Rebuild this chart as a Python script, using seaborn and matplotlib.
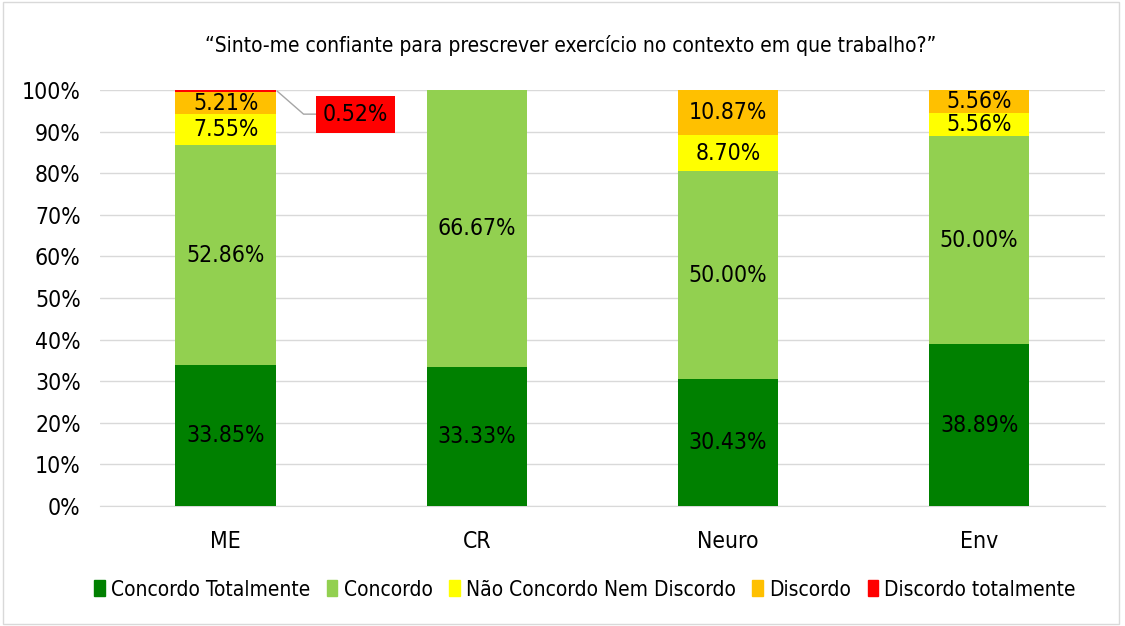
import pandas as pd
import matplotlib.pyplot as plt
import seaborn as sns
from matplotlib.patches import Rectangle, Patch

categories = ["ME", "CR", "Neuro", "Env"]
levels = ["Concordo Totalmente", "Concordo", "Não Concordo Nem Discordo",
          "Discordo", "Discordo totalmente"]
concordo_totalmente = [33.85, 33.33, 30.43, 38.89]
concordo = [52.86, 66.67, 50.00, 50.00]
neutro = [7.55, 0.0, 8.70, 5.56]
discordo = [5.21, 0.0, 10.87, 5.56]
discordo_totalmente = [0.52, 0.0, 0.0, 0.0]
colors = ["#008000", "#92D050", "#FFFF00", "#FFC000", "#FF0000"]
title = "\u201cSinto-me confiante para prescrever exercício no contexto em que trabalho?\u201d"


def main():
    sns.set_style("white", rc={"text.color": "black", "xtick.color": "black",
                               "ytick.color": "black"})
    plt.rcParams['font.family'] = ['DejaVu Sans']
    plt.rcParams['font.stretch'] = 'condensed'

    df = pd.DataFrame({"cat": categories,
                       levels[0]: concordo_totalmente,
                       levels[1]: concordo,
                       levels[2]: neutro,
                       levels[3]: discordo,
                       levels[4]: discordo_totalmente})
    cum = df[levels].cumsum(axis=1)
    cum["cat"] = df["cat"]

    fig = plt.figure(figsize=(11.25, 6.26), dpi=100)
    ax = fig.add_axes([0.089, 0.1917, 0.893, 0.6645])

    # draw tallest cumulative first so the lower layers sit on top
    for lvl, col in reversed(list(zip(levels, colors))):
        sns.barplot(data=cum, x="cat", y=lvl, color=col, width=0.4,
                    saturation=1, linewidth=0, ax=ax, zorder=3)

    # segment labels
    for i in range(len(categories)):
        base = 0.0
        for lvl in levels[:4]:
            v = df[lvl].iloc[i]
            if v > 0:
                ax.text(i, base + v / 2, f"{v:.2f}%", ha="center", va="center",
                        fontsize=16.5, zorder=5)
            base += v

    # callout for the tiny "Discordo totalmente" slice
    v = discordo_totalmente[0]
    top = sum(df[levels].iloc[0])
    ax.plot([0.205, 0.31, 0.36], [top - v / 2, 94.2, 94.2], color="#A6A6A6",
            lw=1, zorder=4, clip_on=False)
    ax.text(0.516, 94.2, f"{v:.2f}%", ha="center", va="center", fontsize=16.5,
            zorder=5, bbox=dict(boxstyle="square,pad=0.3", fc=colors[4], ec="none"))

    ax.set_ylim(0, 100)
    ax.set_xlim(-0.5, 3.5)
    ax.set_yticks(range(0, 101, 10))
    ax.set_yticklabels([f"{t}%" for t in range(0, 101, 10)], fontsize=16.5)
    ax.tick_params(axis="x", labelsize=16.5, pad=17, length=0)
    ax.tick_params(axis="y", length=0, pad=14)
    ax.set_xlabel("")
    ax.set_ylabel("")
    ax.yaxis.grid(True, color="#D9D9D9", lw=1, zorder=0)
    ax.set_axisbelow(True)
    for s in ["top", "left", "right"]:
        ax.spines[s].set_visible(False)
    ax.spines["bottom"].set_color("#D9D9D9")

    fig.text(0.507, 0.928, title, ha="center", va="center", fontsize=15)

    handles = [Patch(color=c) for c in colors]
    fig.legend(handles, levels, loc="center", bbox_to_anchor=(0.52, 0.058),
               ncol=5, frameon=False, fontsize=15, handlelength=0.5,
               handleheight=0.8, handletextpad=0.3, columnspacing=0.8)

    fig.patches.append(Rectangle((0.003, 0.003), 0.992, 0.994, transform=fig.transFigure,
                                 fill=False, ec="#D9D9D9", lw=1))

    plt.savefig("out.png", dpi=100)


if __name__ == "__main__":
    main()
